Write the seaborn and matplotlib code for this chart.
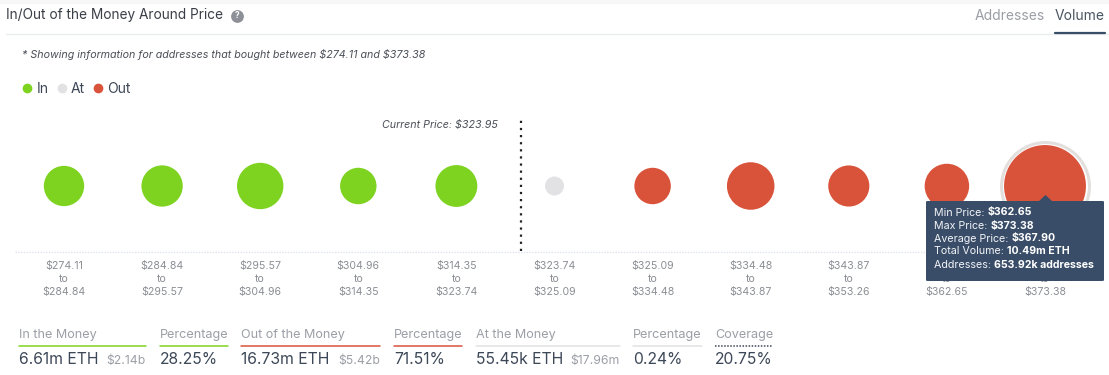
import seaborn as sns
import numpy as np
import pandas as pd
import matplotlib.pyplot as plt
from matplotlib.lines import Line2D
from matplotlib.patches import Rectangle, FancyBboxPatch, Polygon

W, H = 1109, 375

low = ['$274.11', '$284.84', '$295.57', '$304.96', '$314.35', '$323.74', '$325.09', '$334.48', '$343.87', '$353.26', '$362.65']
high = ['$284.84', '$295.57', '$304.96', '$314.35', '$323.74', '$325.09', '$334.48', '$343.87', '$353.26', '$362.65', '$373.38']
volume = [1.20, 1.30, 1.90, 0.85, 1.36, 0.055, 0.85, 2.05, 1.28, 1.66, 10.49]
status = ['In', 'In', 'In', 'In', 'In', 'At', 'Out', 'Out', 'Out', 'Out', 'Out']

stat_heads = ['In the Money', 'Percentage', 'Out of the Money', 'Percentage', 'At the Money', 'Percentage', 'Coverage']
stat_values = ['6.61m ETH', '28.25%', '16.73m ETH', '71.51%', '55.45k ETH', '0.24%', '20.75%']
stat_usd = ['$2.14b', '', '$5.42b', '', '$17.96m', '', '']

tip_labels = ['Min Price: ', 'Max Price: ', 'Average Price: ', 'Total Volume: ', 'Addresses: ']
tip_values = ['$362.65', '$373.38', '$367.90', '10.49m ETH', '653.92k addresses']

GREEN = '#7ed321'
RED = '#d9523a'
LIGHT = '#e2e2e4'
DARK = '#3c4757'
GREY = '#9b9fa6'
NAVY = '#3a4d68'
colors = {'In': GREEN, 'At': LIGHT, 'Out': RED}

sns.set_style('white')
plt.rcParams['font.family'] = ['Inter', 'DejaVu Sans']
plt.rcParams['text.parse_math'] = False

fig = plt.figure(figsize=(W / 100, H / 100), dpi=100)


def txt(x, y, s, size=9, color=DARK, ha='left', va='center', **kw):
    return fig.text(x / W, 1 - y / H, s, fontsize=size, color=color, ha=ha, va=va, **kw)


def hline(x0, x1, y, color, lw=1.0, ls='-', z=1):
    fig.add_artist(Line2D([x0 / W, x1 / W], [1 - y / H, 1 - y / H], color=color, lw=lw, ls=ls, zorder=z))


# bubble strip, one unit on x is one bucket, y is in pixels around the centre
ax = fig.add_axes([0, 1 - 251 / H, 1, 141 / H])
df = pd.DataFrame({'bucket': range(len(volume)), 'y': 0, 'volume': volume, 'status': status})
# bubble radius grows with volume to the power 0.4, then matplotlib wants points squared
df['radius'] = 5.1 + 14.0 * df['volume'] ** 0.4
df['area'] = (2 * df['radius'] * 0.72) ** 2

last = df.tail(1)
ax.scatter(last['bucket'], last['y'], s=(2 * (last['radius'] + 3) * 0.72) ** 2, facecolor='white',
           edgecolor='#e3dfdd', linewidth=2.2, zorder=1)
sns.scatterplot(data=df, x='bucket', y='y', hue='status', palette=colors, size='area',
                sizes=(df['area'].min(), df['area'].max()), size_norm=(df['area'].min(), df['area'].max()),
                linewidth=0, alpha=1, legend=False, ax=ax, zorder=2, clip_on=False)

ax.set_xlim(-64 / 98.1, (W - 64) / 98.1)
ax.set_ylim(-65, 76)
ax.axvline(4.66, ymin=0, ymax=0.93, color='#222222', lw=1.6, ls=(0, (1, 2.2)))
ax.set_xticks(df['bucket'])
ax.set_xticklabels([a + '\nto\n' + b for a, b in zip(low, high)], fontsize=7.6, color='#8a8e94', linespacing=1.32)
ax.tick_params(axis='x', length=0, pad=7.5)
ax.set_yticks([])
ax.set_xlabel('')
ax.set_ylabel('')
sns.despine(ax=ax, left=True, right=True, top=True, bottom=True)
ax.patch.set_alpha(0)
hline(15, 1100, 251.5, '#dfe3ea', lw=1.0, ls=(0, (1, 1)))

# header
fig.add_artist(Rectangle((0, 1 - 3 / H), 1, 3 / H, color='#f7f7f8', zorder=0))
txt(6, 15, 'In/Out of the Money Around Price', size=9.85, color='#3a3f47')
fig.add_artist(Line2D([237 / W], [1 - 15.5 / H], marker='o', ms=9.2, mec='none', mfc='#8d9096', ls=''))
txt(237, 15.5, '?', size=6, color='white', ha='center', weight='bold')
hline(6, W, 33.5, '#e9ebee')
txt(1045, 16, 'Addresses', size=10, color=GREY, ha='right')
txt(1055, 16, 'Volume', size=10, color='#4a5563')
hline(1055, 1105, 32.5, NAVY, lw=1.6, z=2)

txt(22, 54, '* Showing information for addresses that bought between $274.11 and $373.38', size=7.7,
    color='#4a4f57', style='italic')
txt(498, 125, 'Current Price: $323.95', size=7.7, color='#4a4f57', ha='right', style='italic')

# legend
handles = [Line2D([], [], marker='o', ls='', ms=7, mec='none', mfc=colors[k], label=k) for k in ['In', 'At', 'Out']]
fig.legend(handles=handles, loc='center left', bbox_to_anchor=(10 / W, 1 - 89 / H), ncol=3, frameon=False,
           fontsize=10, labelcolor=DARK, handletextpad=-0.1, columnspacing=0.2, handlelength=1.5, borderpad=0)

# bottom stats
stat_x0 = [19, 160, 241, 394, 476, 633, 715]
stat_x1 = [146, 228, 380, 462, 620, 702, 773]
stat_col = [GREEN, GREEN, RED, RED, LIGHT, LIGHT, DARK]
for i in range(len(stat_heads)):
    txt(stat_x0[i], 335, stat_heads[i], size=9.1, color=GREY)
    hline(stat_x0[i], stat_x1[i], 345.5, stat_col[i], lw=1.1, ls=(0, (1, 1)) if i == 6 else '-')
    txt(stat_x0[i], 360, stat_values[i], size=11.3, color=DARK)
    if stat_usd[i]:
        txt(stat_x1[i], 361, stat_usd[i], size=8.8, color=GREY, ha='right')

# tooltip on top of the last bubble
fig.add_artist(FancyBboxPatch((926 / W, 1 - 281 / H), 178 / W, 80 / H, boxstyle='round,pad=0,rounding_size=0.002',
                              transform=fig.transFigure, fc=NAVY, ec='none', zorder=5))
fig.add_artist(Polygon([[1039 / W, 1 - 201 / H], [1045.5 / W, 1 - 195 / H], [1052 / W, 1 - 201 / H]], closed=True,
                       transform=fig.transFigure, fc=NAVY, ec='none', zorder=5))
rend = fig.canvas.get_renderer()
for i in range(len(tip_labels)):
    y = 212.5 + 13 * i
    t = txt(934, y, tip_labels[i], size=7.7, color='#f2f4f7', zorder=6)
    x_end = t.get_window_extent(rend).x1
    txt(x_end, y, tip_values[i], size=7.6, color='white', weight='bold', zorder=6)

fig.savefig('out.png', dpi=100)
